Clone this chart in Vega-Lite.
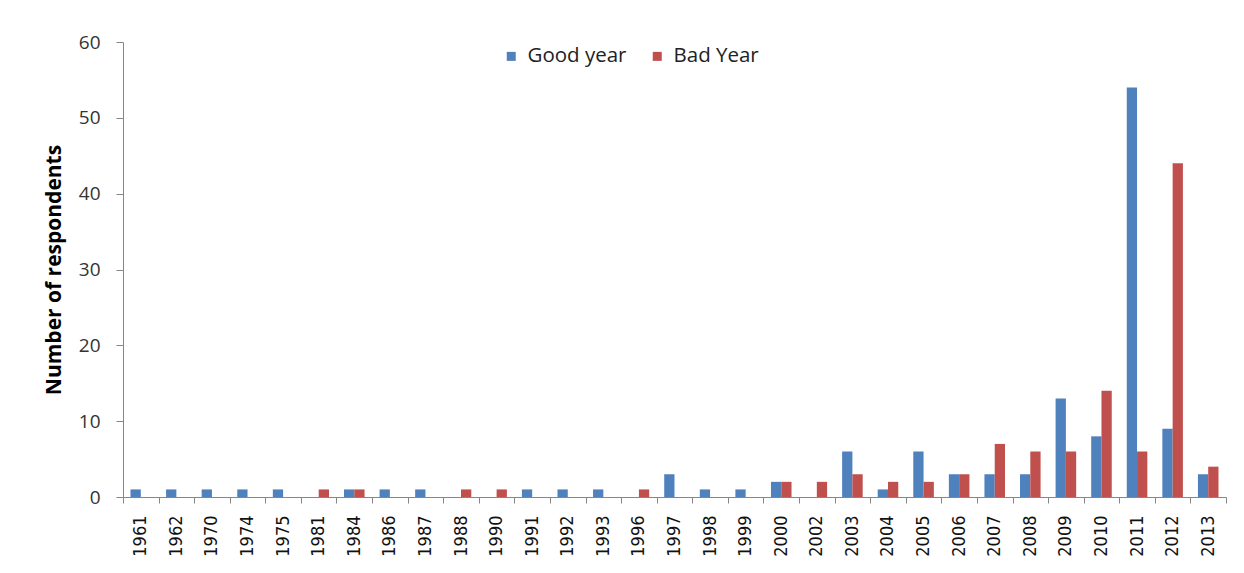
{
  "$schema": "https://vega.github.io/schema/vega-lite/v6.json",
  "width": 1103,
  "height": 455,
  "autosize": {"type": "none"},
  "padding": {"left": 123, "top": 42, "right": 18, "bottom": 76},
  "background": "white",
  "config": {"view": {"stroke": null}},
  "data": {
    "values": [
      {"year": "1961", "series": "Good year", "count": 1}, {"year": "1961", "series": "Bad Year", "count": 0},
      {"year": "1962", "series": "Good year", "count": 1}, {"year": "1962", "series": "Bad Year", "count": 0},
      {"year": "1970", "series": "Good year", "count": 1}, {"year": "1970", "series": "Bad Year", "count": 0},
      {"year": "1974", "series": "Good year", "count": 1}, {"year": "1974", "series": "Bad Year", "count": 0},
      {"year": "1975", "series": "Good year", "count": 1}, {"year": "1975", "series": "Bad Year", "count": 0},
      {"year": "1981", "series": "Good year", "count": 0}, {"year": "1981", "series": "Bad Year", "count": 1},
      {"year": "1984", "series": "Good year", "count": 1}, {"year": "1984", "series": "Bad Year", "count": 1},
      {"year": "1986", "series": "Good year", "count": 1}, {"year": "1986", "series": "Bad Year", "count": 0},
      {"year": "1987", "series": "Good year", "count": 1}, {"year": "1987", "series": "Bad Year", "count": 0},
      {"year": "1988", "series": "Good year", "count": 0}, {"year": "1988", "series": "Bad Year", "count": 1},
      {"year": "1990", "series": "Good year", "count": 0}, {"year": "1990", "series": "Bad Year", "count": 1},
      {"year": "1991", "series": "Good year", "count": 1}, {"year": "1991", "series": "Bad Year", "count": 0},
      {"year": "1992", "series": "Good year", "count": 1}, {"year": "1992", "series": "Bad Year", "count": 0},
      {"year": "1993", "series": "Good year", "count": 1}, {"year": "1993", "series": "Bad Year", "count": 0},
      {"year": "1996", "series": "Good year", "count": 0}, {"year": "1996", "series": "Bad Year", "count": 1},
      {"year": "1997", "series": "Good year", "count": 3}, {"year": "1997", "series": "Bad Year", "count": 0},
      {"year": "1998", "series": "Good year", "count": 1}, {"year": "1998", "series": "Bad Year", "count": 0},
      {"year": "1999", "series": "Good year", "count": 1}, {"year": "1999", "series": "Bad Year", "count": 0},
      {"year": "2000", "series": "Good year", "count": 2}, {"year": "2000", "series": "Bad Year", "count": 2},
      {"year": "2002", "series": "Good year", "count": 0}, {"year": "2002", "series": "Bad Year", "count": 2},
      {"year": "2003", "series": "Good year", "count": 6}, {"year": "2003", "series": "Bad Year", "count": 3},
      {"year": "2004", "series": "Good year", "count": 1}, {"year": "2004", "series": "Bad Year", "count": 2},
      {"year": "2005", "series": "Good year", "count": 6}, {"year": "2005", "series": "Bad Year", "count": 2},
      {"year": "2006", "series": "Good year", "count": 3}, {"year": "2006", "series": "Bad Year", "count": 3},
      {"year": "2007", "series": "Good year", "count": 3}, {"year": "2007", "series": "Bad Year", "count": 7},
      {"year": "2008", "series": "Good year", "count": 3}, {"year": "2008", "series": "Bad Year", "count": 6},
      {"year": "2009", "series": "Good year", "count": 13}, {"year": "2009", "series": "Bad Year", "count": 6},
      {"year": "2010", "series": "Good year", "count": 8}, {"year": "2010", "series": "Bad Year", "count": 14},
      {"year": "2011", "series": "Good year", "count": 54}, {"year": "2011", "series": "Bad Year", "count": 6},
      {"year": "2012", "series": "Good year", "count": 9}, {"year": "2012", "series": "Bad Year", "count": 44},
      {"year": "2013", "series": "Good year", "count": 3}, {"year": "2013", "series": "Bad Year", "count": 4}
    ]
  },
  "mark": {"type": "bar"},
  "encoding": {
    "x": {
      "field": "year",
      "type": "nominal",
      "scale": {"paddingInner": 0, "paddingOuter": 0},
      "axis": {
        "title": null,
        "labelAngle": -90,
        "tickBand": "extent",
        "domainColor": "#868686",
        "tickColor": "#868686",
        "tickSize": 6,
        "labelPadding": 12,
        "labelFont": "DejaVu Sans Condensed",
        "labelFontSize": 18,
        "labelColor": "#111111"
      }
    },
    "xOffset": {
      "field": "series",
      "type": "nominal",
      "sort": ["Good year", "Bad Year"],
      "scale": {"paddingInner": 0, "paddingOuter": 0.73}
    },
    "y": {
      "field": "count",
      "type": "quantitative",
      "scale": {"domain": [0, 60], "nice": false},
      "axis": {
        "title": "Number of respondents",
        "values": [0, 10, 20, 30, 40, 50, 60],
        "grid": false,
        "domainColor": "#868686",
        "tickColor": "#868686",
        "tickSize": 7,
        "labelPadding": 16,
        "labelFont": "Open Sans",
        "labelFontSize": 19,
        "labelColor": "#333333",
        "titleFont": "Open Sans",
        "titleFontSize": 21,
        "titleFontWeight": "bold",
        "titleColor": "#000000",
        "titlePadding": 14
      }
    },
    "color": {
      "field": "series",
      "type": "nominal",
      "scale": {"domain": ["Good year", "Bad Year"], "range": ["#4F81BD", "#C0504D"]},
      "legend": {
        "orient": "none",
        "legendX": 378,
        "legendY": 4,
        "direction": "horizontal",
        "title": null,
        "symbolType": "square",
        "symbolSize": 81,
        "symbolStrokeWidth": 0,
        "labelFont": "Open Sans",
        "labelFontSize": 20.5,
        "labelColor": "#222222",
        "labelOffset": 6,
        "columnPadding": 20
      }
    }
  }
}
